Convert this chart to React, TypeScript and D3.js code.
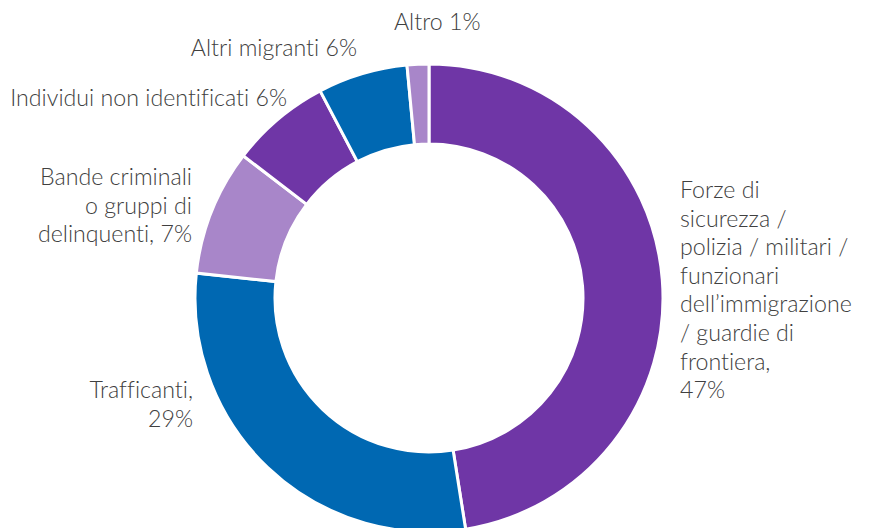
import React from "react";
import * as d3 from "d3";

const categories = [
  "Forze di sicurezza / polizia / militari / funzionari dell’immigrazione / guardie di frontiera",
  "Trafficanti",
  "Bande criminali o gruppi di delinquenti",
  "Individui non identificati",
  "Altri migranti",
  "Altro",
];
// slice shares as drawn in the picture
const values = [47.5, 29.2, 8.7, 6.9, 6.2, 1.5];
const labelPercents = ["47%", "29%", "7%", "6%", "6%", "1%"];
const colors = ["#6f36a6", "#0068b2", "#a886c9", "#6f36a6", "#0068b2", "#a886c9"];

// label text lines and placement (layout only)
const labelLines = [
  ["Forze di", "sicurezza /", "polizia / militari /", "funzionari", "dell’immigrazione", "/ guardie di", "frontiera,", "47%"],
  ["Trafficanti,", "29%"],
  ["Bande criminali", "o gruppi di", "delinquenti, 7%"],
  ["Individui non identificati 6%"],
  ["Altri migranti 6%"],
  ["Altro 1%"],
];
const labelLayout = [
  { x: 680, y: 198, anchor: "start" },
  { x: 193, y: 398, anchor: "end" },
  { x: 192, y: 185, anchor: "end" },
  { x: 287, y: 106, anchor: "end" },
  { x: 357, y: 56, anchor: "end" },
  { x: 394, y: 30, anchor: "start" },
];

const W = 873;
const H = 528;
const cx = 429;
const cy = 298;
const outerR = 234;
const innerR = 154;
const lineH = 28.6;

export default function App() {
  const pie = d3
    .pie<number>()
    .sort(null)
    .value((d) => d);
  const arcs = pie(values);
  const arc = d3.arc<d3.PieArcDatum<number>>().innerRadius(innerR).outerRadius(outerR);

  return (
    <svg
      width={W}
      height={H}
      style={{ position: "fixed", left: 0, top: 0, background: "#fff", fontVariantLigatures: "none" }}
      fontFamily="Lato, 'Open Sans', sans-serif"
    >
      <g transform={`translate(${cx},${cy})`}>
        {arcs.map((a, i) => (
          <path key={categories[i]} d={arc(a) || ""} fill={colors[i]} stroke="#fff" strokeWidth={3} />
        ))}
      </g>
      {labelLines.map((lines, i) => (
        <text
          key={categories[i] + "-l"}
          x={labelLayout[i].x}
          y={labelLayout[i].y}
          textAnchor={labelLayout[i].anchor}
          fontSize={23.2}
          fontWeight={300}
          fill="#404040"
          data-pct={labelPercents[i]}
        >
          {lines.map((ln, j) => (
            <tspan key={j} x={labelLayout[i].x} dy={j === 0 ? 0 : lineH}>
              {ln}
            </tspan>
          ))}
        </text>
      ))}
    </svg>
  );
}
